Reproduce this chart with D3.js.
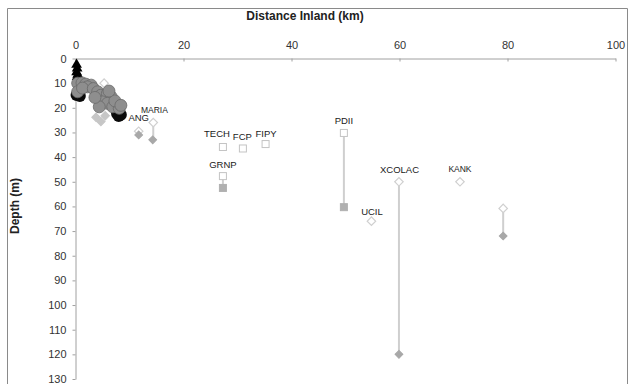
<!DOCTYPE html>
<html><head><meta charset="utf-8">
<script src="https://cdn.jsdelivr.net/npm/d3@7"></script>
<style>body{margin:0;background:#fff}svg{display:block;font-family:"Liberation Sans",Arial,sans-serif}</style>
</head><body><svg id="c" width="632" height="384"></svg>
<script>
// ---- data (distance inland km, depth m) ----
const xTicks = [0, 20, 40, 60, 80, 100];
const yTicks = [0,10,20,30,40,50,60,70,80,90,100,110,120,130];

const blackTriangles = [[0.2,2.5],[0.3,4],[0.2,5.5],[0.4,6.5],[0.3,7.5],[0.5,8]];
const blackCircles = [[0.2,14.8],[0.8,15.2],[7.7,22.4],[8.0,23.3],[8.4,22.8]];
const greyCircles = [
  [0.4,10],[1.2,9.9],[1.9,10.4],[2.9,10.8],[0.4,13.5],[2.2,11.5],[1.3,12],
  [3.3,12.2],[4.1,13.5],[4.7,14.9],[5.9,14.2],[6.6,15.5],[5.0,17.6],[5.9,18.2],
  [6.9,19.6],[4.4,19.6],[8.1,20.2],[3.6,15.8],[7.3,17.2],[6.2,13.2],[8.4,19]
];
const hollowDiamonds = [[5.3,10],[11.7,29.5],[14.4,26],[54.8,66],[59.9,50],[71.2,50],[79.2,60.8]];
const filledDiamondsLight = [[3.8,23.8],[4.7,25.6],[5.5,23.2]];
const filledDiamonds = [[11.7,31],[14.3,33],[59.9,120],[79.2,72]];
const hollowSquares = [[27.3,35.9],[31,36.5],[35.2,34.7],[27.3,47.7],[49.7,30.2]];
const filledSquares = [[27.3,52.5],[49.7,60.3]];
const connectors = [[14.4,26,33],[27.3,47.7,52.5],[49.7,30.2,60.3],[59.9,50,120],[79.2,60.8,72]];
const siteNames = ["ANG","MARIA","TECH","FCP","FIPY","GRNP","PDII","UCIL","XCOLAC","KANK"];
const siteLabelX = [11.7,14.6,26.2,30.9,35.3,27.3,49.7,54.9,60,71.2];
const siteLabelDepth = [24.2,21.0,30.3,31.9,30.3,43.2,25.4,62.2,45.2,44.8];

// ---- chart ----
const svg = d3.select("#c");
const x = d3.scaleLinear().domain([0,100]).range([75.5,615.5]);
const y = d3.scaleLinear().domain([0,130]).range([58.5,379]);

// frame
svg.append("path").attr("d","M7.5,390V8.5H627.5V390").attr("fill","none").attr("stroke","#8a8a8a").attr("stroke-width",1);

// axes
const gx = svg.append("g").attr("transform",`translate(0,${y(0)})`)
  .call(d3.axisTop(x).tickValues(xTicks).tickSizeInner(-3).tickSizeOuter(0).tickPadding(10));
const gy = svg.append("g").attr("transform",`translate(${x(0)},0)`)
  .call(d3.axisLeft(y).tickValues(yTicks).tickSizeInner(3).tickSizeOuter(0).tickPadding(6));
[gx,gy].forEach(g=>{
  g.select(".domain").attr("stroke","#a0a0a0");
  g.selectAll(".tick line").attr("stroke","#a0a0a0");
  g.selectAll(".tick text").attr("fill","#333").style("font-size","11px").style("font-family","Liberation Sans, Arial, sans-serif");
});

svg.append("text").attr("x",305).attr("y",20).attr("text-anchor","middle")
  .style("font-size","12px").style("font-weight","bold").attr("fill","#222").text("Distance Inland (km)");
svg.append("text").attr("transform","translate(19,206) rotate(-90)").attr("text-anchor","middle")
  .style("font-size","12px").style("font-weight","bold").attr("fill","#222").text("Depth (m)");

// connectors
svg.append("g").selectAll("line").data(connectors).join("line")
  .attr("x1",d=>x(d[0])).attr("x2",d=>x(d[0])).attr("y1",d=>y(d[1])).attr("y2",d=>y(d[2]))
  .attr("stroke","#cfcfcf").attr("stroke-width",2);

// square diamond: rotated square symbol
const diamond = (s)=>d3.symbol().type(d3.symbolSquare).size(s*s)();
const place = d=>`translate(${x(d[0])},${y(d[1])}) rotate(45)`;

svg.append("g").selectAll("path").data(hollowDiamonds).join("path")
  .attr("transform",place).attr("d",diamond(6))
  .attr("fill","#fff").attr("stroke","#d0d0d0").attr("stroke-width",1.2);
svg.append("g").selectAll("path").data(filledDiamondsLight).join("path")
  .attr("transform",place).attr("d",diamond(6))
  .attr("fill","#c6c6c6").attr("stroke","#c6c6c6");
svg.append("g").selectAll("path").data(filledDiamonds).join("path")
  .attr("transform",place).attr("d",diamond(5.5))
  .attr("fill","#a8a8a8").attr("stroke","#a8a8a8");
// squares
svg.append("g").selectAll("rect").data(hollowSquares).join("rect")
  .attr("x",d=>x(d[0])-3.5).attr("y",d=>y(d[1])-3.5).attr("width",7).attr("height",7)
  .attr("fill","#fff").attr("stroke","#c4c4c4").attr("stroke-width",1);
svg.append("g").selectAll("rect").data(filledSquares).join("rect")
  .attr("x",d=>x(d[0])-3.5).attr("y",d=>y(d[1])-3.5).attr("width",7).attr("height",7)
  .attr("fill","#b0b0b0").attr("stroke","#b0b0b0");

// black triangles & circles
svg.append("g").selectAll("path").data(blackTriangles).join("path")
  .attr("transform",d=>`translate(${x(d[0])},${y(d[1])})`).attr("d",d3.symbol().type(d3.symbolTriangle).size(50)())
  .attr("fill","#000");
svg.append("g").selectAll("circle").data(blackCircles).join("circle")
  .attr("cx",d=>x(d[0])).attr("cy",d=>y(d[1])).attr("r",6).attr("fill","#0a0a0a");
svg.append("g").selectAll("circle").data(greyCircles).join("circle")
  .attr("cx",d=>x(d[0])).attr("cy",d=>y(d[1])).attr("r",6)
  .attr("fill","#8e8e8e").attr("stroke","#6a6a6a").attr("stroke-width",0.8);

// site labels
svg.append("g").selectAll("text").data(siteNames).join("text")
  .attr("x",(d,i)=>x(siteLabelX[i])).attr("y",(d,i)=>y(siteLabelDepth[i]))
  .attr("dy","0.35em").attr("text-anchor","middle")
  .style("font-size",d=>d==="MARIA"||d==="KANK"?"8.5px":"9.5px").attr("fill","#1a1a1a").text(d=>d);
</script></body></html>
